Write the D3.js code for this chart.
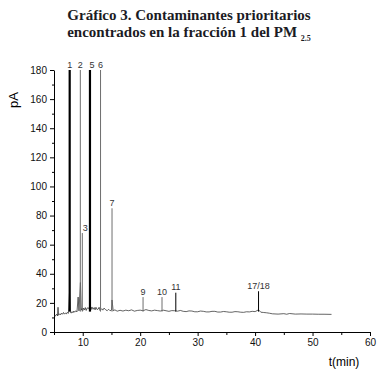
<!DOCTYPE html>
<html>
<head>
<meta charset="utf-8">
<script src="https://cdn.jsdelivr.net/npm/d3@7"></script>
<style>
  body { margin: 0; background: #fff; }
  svg { display: block; }
</style>
</head>
<body>
<svg width="389" height="383"></svg>
<script>
// trazo de la línea base (tiempo en min, señal en pA)
const baseTime = [5.0, 5.2, 5.3, 5.5, 5.6, 5.7, 5.8, 6.0, 6.15, 6.3, 6.5, 6.65, 6.8, 7.0, 7.15, 7.3, 7.5, 7.7, 7.85, 8.0,
  8.15, 8.3, 8.45, 8.6, 8.8, 9.0, 9.2, 9.35, 9.6, 9.75, 9.9, 10.0, 10.15, 10.3, 10.45, 10.6, 10.8, 11.0, 11.3, 11.45,
  11.6, 11.8, 12.0, 12.15, 12.3, 12.5, 12.7, 12.85, 13.0, 13.3, 13.5, 13.7, 14.0, 14.25, 14.5, 14.75, 15.0, 15.1, 15.3, 15.6,
  16.0, 16.5, 17.0, 17.5, 18.0, 18.5, 19.0, 19.5, 20.0, 20.5, 21.0, 21.5, 22.0, 22.5, 23.0, 23.5, 24.0, 24.5, 25.0, 25.5,
  26.0, 26.5, 27.0, 27.5, 28.0, 28.5, 29.0, 29.5, 30.0, 30.5, 31.0, 31.5, 32.0, 32.5, 33.0, 33.5, 34.0, 34.5, 35.0, 35.5,
  36.0, 36.5, 37.0, 37.5, 38.0, 38.5, 39.0, 39.5, 40.0, 40.6, 41.0, 41.5, 42.0, 42.5, 43.0, 44.0, 45.0, 45.5, 46.0, 47.0,
  48.0, 49.0, 50.0, 51.0, 52.0, 53.3];
const baseSignal = [11.5, 10.8, 11.6, 12.2, 11.0, 17.0, 11.5, 12.5, 11.8, 13.0, 12.2, 13.4, 12.4, 13.0, 12.3, 13.5, 12.8, 27.0, 13.4, 13.0,
  14.0, 13.2, 14.4, 13.6, 14.6, 13.8, 24.0, 14.5, 34.0, 15.0, 16.2, 14.6, 16.4, 15.2, 16.8, 14.8, 16.6, 16.0, 18.5, 15.4,
  17.2, 15.6, 16.8, 15.2, 17.0, 15.4, 15.8, 17.0, 14.8, 16.0, 15.0, 16.4, 15.3, 14.6, 15.6, 14.6, 15.0, 22.0, 14.6, 15.2,
  14.3, 14.9, 14.4, 15.0, 14.6, 15.2, 14.3, 14.8, 15.0, 14.6, 15.4, 14.8, 14.5, 15.0, 14.7, 14.4, 15.0, 14.6, 14.2, 14.7,
  14.6, 14.3, 14.8, 14.2, 14.0, 14.5, 14.4, 13.9, 13.9, 14.4, 14.2, 13.8, 13.8, 14.2, 14.2, 13.7, 13.7, 14.1, 13.9, 13.6,
  13.6, 14.0, 13.9, 13.6, 13.5, 13.9, 13.8, 14.2, 14.0, 15.2, 13.6, 13.4, 13.2, 12.9, 12.5, 12.3, 12.6, 12.2, 12.7, 12.3,
  12.4, 12.3, 12.3, 12.2, 12.2, 12.1];

// picos identificados
const peakLabels = ["1", "2", "3", "5", "6", "7", "9", "10", "11", "17/18"];
const peakTimes = [7.73, 9.58, 9.93, 11.26, 13.1, 15.1, 20.5, 23.8, 26.2, 40.6];
const peakHeights = [180, 180, 68, 180, 180, 85, 24, 24, 27, 28];

const xTicks = [10, 20, 30, 40, 50, 60];
const yTicks = [0, 20, 40, 60, 80, 100, 120, 140, 160, 180];

const svg = d3.select("svg");

const x = d3.scaleLinear().domain([5, 60]).range([54, 370]);
const y = d3.scaleLinear().domain([0, 180]).range([332, 70]);

// Título
const title = svg.append("text")
  .attr("x", 189)
  .attr("text-anchor", "middle")
  .style("font-family", "'Liberation Serif', serif")
  .style("font-weight", "bold")
  .style("font-size", "15px")
  .attr("fill", "#1b1b24");
title.append("tspan").attr("x", 189).attr("y", 20).text("Gráfico 3. Contaminantes prioritarios");
title.append("tspan").attr("x", 189).attr("y", 37).text("encontrados en la fracción 1 del PM ");
title.append("tspan").attr("dy", 4).style("font-size", "8px").text("2.5");

// Ejes
const tickFont = "'Liberation Sans', Arial, sans-serif";

svg.append("g")
  .attr("transform", "translate(54,0)")
  .call(d3.axisLeft(y).tickValues(yTicks).tickSize(4).tickSizeOuter(0).tickPadding(3));
svg.append("g")
  .attr("transform", "translate(54,0)")
  .call(d3.axisLeft(y).tickValues(d3.range(10, 180, 20)).tickSize(2).tickFormat(""))
  .select(".domain").remove();

svg.append("g")
  .attr("transform", "translate(0,332)")
  .call(d3.axisBottom(x).tickValues(xTicks).tickSize(4).tickSizeOuter(0).tickPadding(3));
svg.append("g")
  .attr("transform", "translate(0,332)")
  .call(d3.axisBottom(x).tickValues(d3.range(5, 60, 10)).tickSize(3).tickFormat(""))
  .select(".domain").remove();

svg.selectAll(".tick text")
  .style("font-family", tickFont)
  .style("font-size", "10px")
  .attr("fill", "#111");
svg.selectAll(".domain, .tick line").attr("stroke", "#000");

svg.append("text")
  .attr("transform", "translate(18,100) rotate(-90)")
  .attr("text-anchor", "middle")
  .style("font-family", tickFont)
  .style("font-size", "13px")
  .text("pA");

svg.append("text")
  .attr("x", 344)
  .attr("y", 366)
  .attr("text-anchor", "middle")
  .style("font-family", tickFont)
  .style("font-size", "12px")
  .text("t(min)");

// Línea base
const baseData = baseTime.map((t, i) => ({ t, v: baseSignal[i] }));
svg.append("path")
  .datum(baseData)
  .attr("fill", "none")
  .attr("stroke", "#222")
  .attr("stroke-width", 0.7)
  .attr("d", d3.line().x(d => x(d.t)).y(d => y(d.v)));

const bisect = d3.bisector(d => d.t).left;
function baseAt(t) {
  const i = Math.max(1, Math.min(baseData.length - 1, bisect(baseData, t)));
  const a = baseData[i - 1], b = baseData[i];
  return a.v + (b.v - a.v) * (t - a.t) / (b.t - a.t);
}

// Picos
const peaks = peakLabels.map((label, i) => ({ label, t: peakTimes[i], h: peakHeights[i] }));
const thick = new Set(["1", "5"]);
const dark = new Set(["11", "17/18"]);
const labelDx = { "3": 3, "5": 2 };

svg.selectAll(".peak")
  .data(peaks)
  .enter().append("line")
  .attr("class", "peak")
  .attr("x1", d => x(d.t))
  .attr("x2", d => x(d.t))
  .attr("y1", d => y(Math.min(baseAt(d.t), 14)))
  .attr("y2", d => y(d.h))
  .attr("stroke", d => thick.has(d.label) || dark.has(d.label) ? "#000" : "#6e6e6e")
  .attr("stroke-width", d => thick.has(d.label) ? 2.2 : 1);

svg.selectAll(".peak-label")
  .data(peaks)
  .enter().append("text")
  .attr("class", "peak-label")
  .attr("x", d => x(d.t) + (labelDx[d.label] || 0))
  .attr("y", d => y(d.h) - 2.5)
  .attr("text-anchor", "middle")
  .style("font-family", tickFont)
  .style("font-size", "9px")
  .attr("fill", "#333")
  .text(d => d.label);
</script>
</body>
</html>
